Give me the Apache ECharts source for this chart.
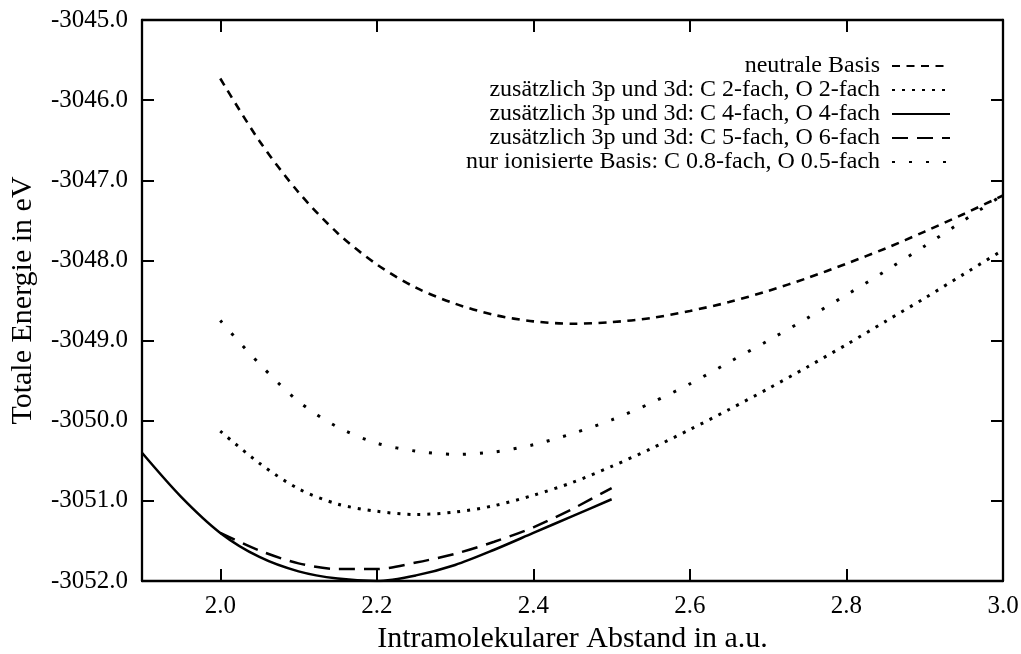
<!DOCTYPE html>
<html>
<head>
<meta charset="utf-8">
<script src="https://cdn.jsdelivr.net/npm/echarts@6/dist/echarts.min.js"></script>
<style>html,body{margin:0;padding:0;background:#fff}#c{width:1021px;height:654px}</style>
</head>
<body>
<div id="c"></div>
<script>
// ---- data ----
var xTicks = [2.0, 2.2, 2.4, 2.6, 2.8, 3.0];
var yTicks = [-3052, -3051, -3050, -3049, -3048, -3047, -3046, -3045];

var seriesNames = [
  'neutrale Basis',
  'zusätzlich 3p und 3d: C 2-fach, O 2-fach',
  'zusätzlich 3p und 3d: C 4-fach, O 4-fach',
  'zusätzlich 3p und 3d: C 5-fach, O 6-fach',
  'nur ionisierte Basis: C 0.8-fach, O 0.5-fach'
];

var xFull = [2.00,2.05,2.10,2.15,2.20,2.25,2.30,2.35,2.40,2.45,2.50,2.55,2.60,2.65,2.70,2.75,2.80,2.85,2.90,2.95,3.00];
var neutral = [-3045.73,-3046.51,-3047.15,-3047.66,-3048.05,-3048.34,-3048.54,-3048.68,-3048.76,-3048.79,-3048.77,-3048.72,-3048.63,-3048.52,-3048.38,-3048.22,-3048.04,-3047.85,-3047.64,-3047.42,-3047.19];
var c2o2 = [-3050.13,-3050.53,-3050.85,-3051.04,-3051.13,-3051.17,-3051.14,-3051.06,-3050.93,-3050.77,-3050.57,-3050.35,-3050.11,-3049.86,-3049.60,-3049.33,-3049.05,-3048.76,-3048.47,-3048.17,-3047.87];
var ionisiert = [-3048.75,-3049.29,-3049.76,-3050.08,-3050.28,-3050.38,-3050.42,-3050.39,-3050.30,-3050.16,-3049.99,-3049.78,-3049.54,-3049.27,-3049.00,-3048.72,-3048.43,-3048.13,-3047.82,-3047.50,-3047.18];

var xC4O4 = [1.90,1.95,2.00,2.05,2.10,2.15,2.20,2.25,2.30,2.35,2.40,2.45,2.50];
var c4o4 = [-3050.40,-3050.95,-3051.40,-3051.70,-3051.88,-3051.97,-3052.00,-3051.93,-3051.80,-3051.61,-3051.40,-3051.19,-3050.98];

var xC5O6 = [2.00,2.05,2.10,2.15,2.20,2.25,2.30,2.35,2.40,2.45,2.50];
var c5o6 = [-3051.40,-3051.62,-3051.78,-3051.85,-3051.85,-3051.77,-3051.66,-3051.51,-3051.33,-3051.10,-3050.84];

function pairs(xs, ys){ return xs.map(function(x,i){ return [x, ys[i]]; }); }

var FONT = 'Liberation Serif';
var chart = echarts.init(document.getElementById('c'), null, {renderer:'canvas'});

function mkSeries(name, data, dash, w){
  return {
    name: name, type: 'line', data: data, smooth: 0.3,
    symbol: 'none', showSymbol: false, clip: true,
    lineStyle: {color: '#000', width: w, type: dash},
    itemStyle: {color: '#000'},
    emphasis: {disabled: true}, animation: false
  };
}

var axisCommon = {
  axisLine: {show: true, onZero: false, lineStyle: {color: '#000', width: 2.3}},
  axisTick: {show: true, inside: true, length: 12, lineStyle: {color: '#000', width: 2}},
  splitLine: {show: false}
};

chart.setOption({
  backgroundColor: '#fff',
  animation: false,
  grid: {left: 142, right: 18, top: 20, bottom: 73, containLabel: false, outerBoundsMode: 'none'},
  legend: {
    orient: 'vertical', right: 65, top: 49, align: 'right',
    itemWidth: 58, itemHeight: 12, itemGap: 0,
    itemStyle: {opacity: 0},
    textStyle: {fontFamily: FONT, fontSize: 24, color: '#000', lineHeight: 23.3, padding: [0, 7, 0, 0]},
    data: seriesNames, selectedMode: false
  },
  xAxis: [
    Object.assign({}, axisCommon, {
      type: 'value', min: 1.9, max: 3.0, position: 'bottom',
      name: 'Intramolekularer Abstand in a.u.', nameLocation: 'middle', nameGap: 36,
      nameTextStyle: {fontFamily: FONT, fontSize: 30, color: '#000'},
      axisTick: Object.assign({}, axisCommon.axisTick, {customValues: xTicks}),
      axisLabel: {customValues: xTicks, fontFamily: FONT, fontSize: 25, color: '#000', margin: 13,
        formatter: function(v){ return v.toFixed(1); }}
    }),
    Object.assign({}, axisCommon, {
      type: 'value', min: 1.9, max: 3.0, position: 'top',
      axisTick: Object.assign({}, axisCommon.axisTick, {customValues: xTicks}),
      axisLabel: {show: false}
    })
  ],
  yAxis: [
    Object.assign({}, axisCommon, {
      type: 'value', min: -3052, max: -3045, interval: 1, position: 'left',
      name: 'Totale Energie in eV', nameLocation: 'middle', nameGap: 104, nameRotate: 90,
      nameTextStyle: {fontFamily: FONT, fontSize: 30, color: '#000'},
      axisLabel: {fontFamily: FONT, fontSize: 25, color: '#000', margin: 14,
        formatter: function(v){ return v.toFixed(1); }}
    }),
    Object.assign({}, axisCommon, {
      type: 'value', min: -3052, max: -3045, interval: 1, position: 'right',
      axisLabel: {show: false}
    })
  ],
  series: [
    mkSeries(seriesNames[0], pairs(xFull, neutral), [8, 6.5], 2.6),
    mkSeries(seriesNames[1], pairs(xFull, c2o2), [3, 7], 3),
    mkSeries(seriesNames[2], pairs(xC4O4, c4o4), 'solid', 2.5),
    mkSeries(seriesNames[3], pairs(xC5O6, c5o6), [16, 9], 2.5),
    mkSeries(seriesNames[4], pairs(xFull, ionisiert), [3, 14], 3)
  ]
});
</script>
</body>
</html>
